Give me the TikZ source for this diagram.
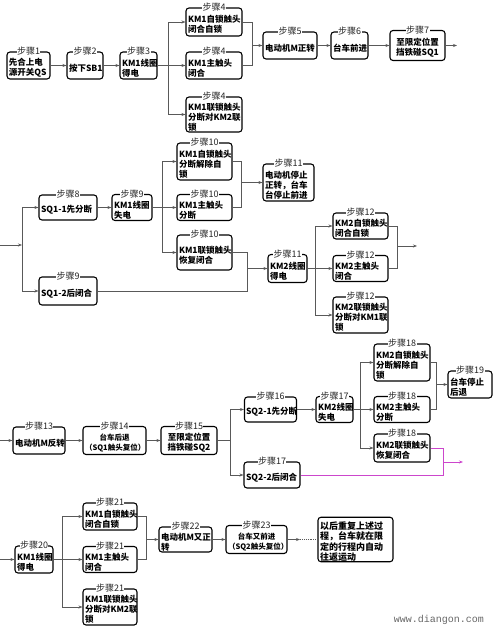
\documentclass[tikz,border=0pt]{standalone}
\usepackage{fontspec}
\newfontfamily\cjk{Noto Sans CJK SC}
\newfontfamily\wmfont{Liberation Mono}
\usetikzlibrary{arrows.meta}
\definecolor{linkpink}{RGB}{204,70,204}
\tikzset{
  stepbox/.style={draw, rounded corners=3pt, line width=1.1pt, inner xsep=2pt, inner ysep=0pt,
                  align=left, font=\cjk\bfseries\fontsize{8.5}{10}\selectfont,
                  execute at begin node={\rule{0pt}{12pt}}},
  ttl/.style={fill=white, inner sep=0.5pt, anchor=center, yshift=0.3pt, text=black!85,
              font=\cjk\fontsize{9}{10}\selectfont},
  ln/.style={draw=black!65, line width=0.65pt},
  arr/.style={-{Stealth[length=4pt,width=3pt]}},
}
\begin{document}
\begin{tikzpicture}[x=1pt,y=-1pt]
  \useasboundingbox (0,0) rectangle (499,631);
  % forward run
  \node[stepbox, text width=39pt, minimum height=27pt, label={[ttl]north:步骤1}] (s1) at (28.5,65.5) {先合上电\\源开关QS};
  \node[stepbox, text width=32pt, minimum height=27pt, label={[ttl]north:步骤2}] (s2) at (85,65.5) {按下SB1};
  \node[stepbox, text width=33pt, minimum height=27pt, label={[ttl]north:步骤3}] (s3) at (138.5,65.5) {KM1线圈\\得电};
  \node[stepbox, text width=52pt, minimum height=28pt, label={[ttl]north:步骤4}] (s4a) at (214,22) {KM1自锁触头\\闭合自锁};
  \node[stepbox, text width=52pt, minimum height=27pt, label={[ttl]north:步骤4}] (s4b) at (214,65.5) {KM1主触头\\闭合};
  \node[stepbox, text width=52pt, minimum height=35pt, label={[ttl]north:步骤4}] (s4c) at (214,114.5) {KM1联锁触头\\分断对KM2联\\锁};
  \node[stepbox, text width=50pt, minimum height=27pt, label={[ttl]north:步骤5}] (s5) at (290,45.5) {电动机M正转};
  \node[stepbox, text width=33pt, minimum height=27pt, label={[ttl]north:步骤6}] (s6) at (349.5,45.5) {台车前进};
  \node[stepbox, text width=51pt, minimum height=30pt, align=center, label={[ttl]north:步骤7}] (s7) at (417.5,45.5) {至限定位置\\挡铁碰SQ1};
  \coordinate (b1) at (168,65.5);
  \coordinate (m1) at (252,45.5);
  \coordinate (e1) at (457,45.5);
  \draw[ln,arr] (s1) -- (s2);
  \draw[ln,arr] (s2) -- (s3);
  \draw[ln] (s3) -- (b1);
  \draw[ln,arr] (b1) |- (s4a);
  \draw[ln,arr] (b1) -- (s4b);
  \draw[ln,arr] (b1) |- (s4c);
  \draw[ln] (s4a) -| (m1);
  \draw[ln] (s4b) -| (m1);
  \draw[ln,arr] (m1) -- (s5);
  \draw[ln,arr] (s5) -- (s6);
  \draw[ln,arr] (s6) -- (s7);
  \draw[ln,arr] (s7) -- (e1);
  % SQ1 pressed
  \node[stepbox, text width=54pt, minimum height=25pt, label={[ttl]north:步骤8}] (s8) at (68,207.5) {\mbox{SQ1-1先分断}};
  \node[stepbox, text width=36pt, minimum height=26pt, label={[ttl]north:步骤9}] (s9a) at (132,207.5) {KM1线圈\\失电};
  \node[stepbox, text width=54pt, minimum height=28pt, label={[ttl]north:步骤9}] (s9b) at (68,291) {\mbox{SQ1-2后闭合}};
  \node[stepbox, text width=51pt, minimum height=37pt, label={[ttl]north:步骤10}] (s10a) at (204.5,161.5) {KM1自锁触头\\分断解除自\\锁};
  \node[stepbox, text width=51pt, minimum height=26pt, label={[ttl]north:步骤10}] (s10b) at (204.5,207.5) {KM1主触头\\分断};
  \node[stepbox, text width=51pt, minimum height=35pt, label={[ttl]north:步骤10}] (s10c) at (204.5,252.5) {KM1联锁触头\\恢复闭合};
  \node[stepbox, text width=47pt, minimum height=37pt, label={[ttl]north:步骤11}] (s11a) at (288.5,182.5) {电动机停止\\正转，台车\\台停止前进};
  \node[stepbox, text width=35pt, minimum height=28pt, label={[ttl]north:步骤11}] (s11b) at (287.5,268.5) {KM2线圈\\得电};
  \node[stepbox, text width=51pt, minimum height=26pt, label={[ttl]north:步骤12}] (s12a) at (360.5,226) {KM2自锁触头\\闭合自锁};
  \node[stepbox, text width=51pt, minimum height=26pt, label={[ttl]north:步骤12}] (s12b) at (360.5,268.5) {KM2主触头\\闭合};
  \node[stepbox, text width=51pt, minimum height=36pt, label={[ttl]north:步骤12}] (s12c) at (360.5,315) {KM2联锁触头\\分断对KM1联\\锁};
  \coordinate (in1) at (0,245);
  \coordinate (b2) at (22,245);
  \coordinate (b3) at (162,207.5);
  \coordinate (m2) at (241,182.5);
  \coordinate (m3) at (247,268.5);
  \coordinate (b4) at (315,268.5);
  \coordinate (m4) at (397,246);
  \coordinate (e2) at (417,246);
  \draw[ln,arr] (in1) -- (b2);
  \draw[ln,arr] (b2) |- (s8);
  \draw[ln,arr] (b2) |- (s9b);
  \draw[ln,arr] (s8) -- (s9a);
  \draw[ln] (s9a) -- (b3);
  \draw[ln,arr] (b3) |- (s10a);
  \draw[ln,arr] (b3) -- (s10b);
  \draw[ln,arr] (b3) |- (s10c);
  \draw[ln] (s10a) -| (m2);
  \draw[ln] (s10b) -| (m2);
  \draw[ln,arr] (m2) -- (s11a);
  \draw[ln] (s10c) -| (m3);
  \draw[ln] (s9b) -| (m3);
  \draw[ln,arr] (m3) -- (s11b);
  \draw[ln] (s11b) -- (b4);
  \draw[ln,arr] (b4) |- (s12a);
  \draw[ln,arr] (b4) -- (s12b);
  \draw[ln,arr] (b4) |- (s12c);
  \draw[ln] (s12a) -| (m4);
  \draw[ln] (s12b) -| (m4);
  \draw[ln,arr] (m4) -- (e2);
  % reverse run
  \node[stepbox, text width=48pt, minimum height=27pt, label={[ttl]north:步骤13}] (s13) at (39,440.5) {电动机M反转};
  \node[stepbox, text width=59pt, minimum height=28pt, align=center, font=\cjk\bfseries\fontsize{7.5}{10}\selectfont, label={[ttl]north:步骤14}] (s14) at (114.5,440.5) {台车后退\\（SQ1触头复位）};
  \node[stepbox, text width=52pt, minimum height=28pt, align=center, label={[ttl]north:步骤15}] (s15) at (189,440.5) {至限定位置\\挡铁碰SQ2};
  \node[stepbox, text width=49pt, minimum height=25pt, inner xsep=1.5pt, label={[ttl]north:步骤16}] (s16) at (270.5,409.5) {\mbox{SQ2-1先分断}};
  \node[stepbox, text width=33pt, minimum height=26pt, label={[ttl]north:步骤17}] (s17a) at (334.5,409.5) {KM2线圈\\失电};
  \node[stepbox, text width=52pt, minimum height=26pt, label={[ttl]north:步骤17}] (s17b) at (272,475) {\mbox{SQ2-2后闭合}};
  \node[stepbox, text width=52pt, minimum height=37pt, label={[ttl]north:步骤18}] (s18a) at (402,362.5) {KM2自锁触头\\分断解除自\\锁};
  \node[stepbox, text width=52pt, minimum height=26pt, label={[ttl]north:步骤18}] (s18b) at (402,409.5) {KM2主触头\\分断};
  \node[stepbox, text width=52pt, minimum height=28pt, label={[ttl]north:步骤18}] (s18c) at (402,448) {KM2联锁触头\\恢复闭合};
  \node[stepbox, text width=40pt, minimum height=27pt, label={[ttl]north:步骤19}] (s19) at (470,384.5) {台车停止\\后退};
  \coordinate (in2) at (0,440.5);
  \coordinate (b5) at (230,440.5);
  \coordinate (b6) at (360,409.5);
  \coordinate (m5) at (436,384.5);
  \coordinate (m6) at (443,462);
  \coordinate (e3) at (463,462);
  \draw[ln,arr] (in2) -- (s13);
  \draw[ln,arr] (s13) -- (s14);
  \draw[ln,arr] (s14) -- (s15);
  \draw[ln] (s15) -- (b5);
  \draw[ln,arr] (b5) |- (s16);
  \draw[ln,arr] (b5) |- (s17b);
  \draw[ln,arr] (s16) -- (s17a);
  \draw[ln] (s17a) -- (b6);
  \draw[ln,arr] (b6) |- (s18a);
  \draw[ln,arr] (b6) -- (s18b);
  \draw[ln,arr] (b6) |- (s18c);
  \draw[ln] (s18a) -| (m5);
  \draw[ln] (s18b) -| (m5);
  \draw[ln,arr] (m5) -- (s19);
  \draw[ln,draw=linkpink] (s18c) -| (m6);
  \draw[ln,draw=linkpink] (s17b) -| (m6);
  \draw[ln,draw=linkpink,arr] (m6) -- (e3);
  % forward again
  \node[stepbox, text width=34pt, minimum height=27pt, label={[ttl]north:步骤20}] (s20) at (34,559.5) {KM1线圈\\得电};
  \node[stepbox, text width=50pt, minimum height=27pt, label={[ttl]north:步骤21}] (s21a) at (110,516.5) {KM1自锁触头\\闭合自锁};
  \node[stepbox, text width=50pt, minimum height=26pt, label={[ttl]north:步骤21}] (s21b) at (110,559.5) {KM1主触头\\闭合};
  \node[stepbox, text width=50pt, minimum height=36pt, label={[ttl]north:步骤21}] (s21c) at (110,607) {KM1联锁触头\\分断对KM2联\\锁};
  \node[stepbox, text width=49pt, minimum height=25pt, label={[ttl]north:步骤22}] (s22) at (185.5,539.5) {电动机M又正\\转};
  \node[stepbox, text width=57pt, minimum height=28pt, align=center, font=\cjk\bfseries\fontsize{7.5}{10}\selectfont, label={[ttl]north:步骤23}] (s23) at (256.5,539.5) {台车又前进\\（SQ2触头复位）};
  \node[stepbox, text width=71pt, minimum height=44pt, execute at begin node={}, font=\cjk\bfseries\fontsize{9}{10.5}\selectfont] (s24) at (355.5,539.5) {以后重复上述过\\程，台车就在限\\定的行程内自动\\往返运动};
  \coordinate (in3) at (0,559.5);
  \coordinate (b7) at (62,559.5);
  \coordinate (m7) at (146,539.5);
  \coordinate (d1) at (300,539.5);
  \draw[ln,arr] (in3) -- (s20);
  \draw[ln] (s20) -- (b7);
  \draw[ln,arr] (b7) |- (s21a);
  \draw[ln,arr] (b7) -- (s21b);
  \draw[ln,arr] (b7) |- (s21c);
  \draw[ln] (s21a) -| (m7);
  \draw[ln] (s21b) -| (m7);
  \draw[ln,arr] (m7) -- (s22);
  \draw[ln,arr] (s22) -- (s23);
  \draw[ln,arr] (s23) -- (d1);
  \draw[ln,line width=0.9pt,densely dotted] (d1) -- (s24);
  \node[font=\wmfont\fontsize{10}{10}\selectfont, text=black!60] (wm) at (439,620) {www.diangon.com};
\end{tikzpicture}
\end{document}
